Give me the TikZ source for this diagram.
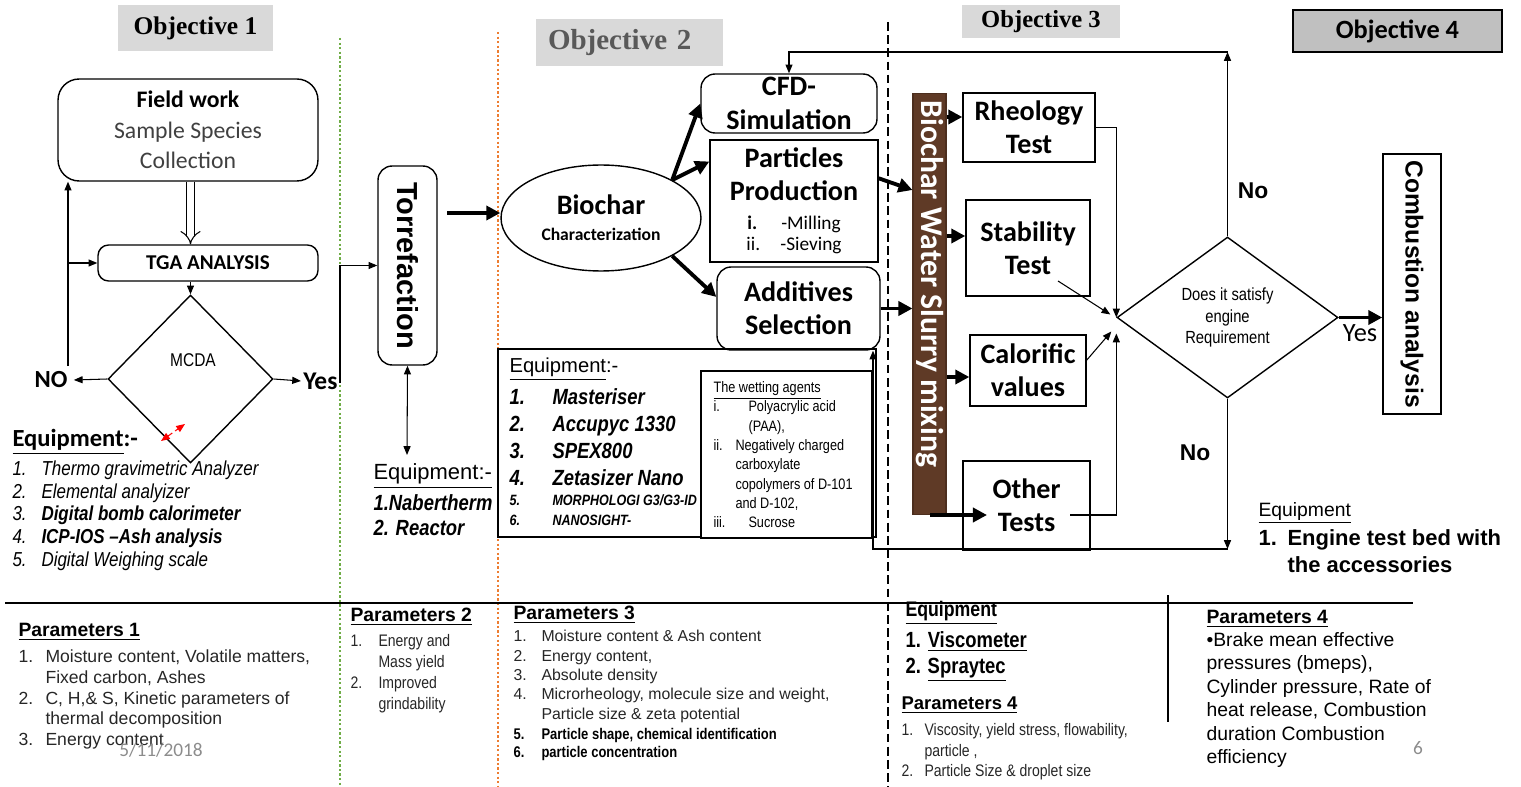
\documentclass[tikz,border=0pt]{standalone}
\usepackage{fontspec}
\setmainfont{Liberation Sans}
\newfontfamily\calibri{Carlito}
\newfontfamily\timesfont{Liberation Serif}
\newfontfamily\narrowfont[FakeStretch=0.84]{Liberation Sans}
\usetikzlibrary{arrows.meta,shapes.geometric,calc}

\definecolor{objgray}{HTML}{D9D9D9}
\definecolor{objfour}{HTML}{C0C0C0}
\definecolor{slurrybrown}{HTML}{5F3A26}
\definecolor{sepgreen}{HTML}{70AD47}
\definecolor{seporange}{HTML}{ED7D31}
\definecolor{textgray}{HTML}{404040}

\tikzset{
  objbox/.style={fill=objgray, inner sep=0pt},
  flowbox/.style={draw, line width=0.8pt, inner sep=0pt, align=center},
  roundbox/.style={flowbox, rounded corners=8pt},
  boxlabel/.style={font=\calibri\bfseries\fontsize{16}{19}\selectfont},
  bigarrow/.style={line width=2.2pt, -{Triangle[length=8pt,width=8pt]}},
  list/.style={anchor=north west, inner sep=0pt, align=left},
  heading/.style={anchor=west, inner sep=0pt},
}

\begin{document}
\begin{tikzpicture}[x=0.02cm, y=-0.02cm, line width=0.6pt, >={Triangle[length=5pt,width=4pt]}]
\useasboundingbox (0,0) rectangle (1521,787);

% objectives
\node[objbox, minimum width=3.1cm, minimum height=0.92cm, font=\timesfont\bfseries\fontsize{14.5}{17}\selectfont] (obja) at (195.5,28) {Objective 1};
\node[objbox, minimum height=0.94cm, inner xsep=0.24cm, text width=3.26cm, align=left, text=black!65, font=\timesfont\bfseries\fontsize{16.5}{19}\selectfont] (objb) at (629.5,42.5) {Objective 2};
\node[objbox, minimum width=3.16cm, minimum height=0.66cm, font=\timesfont\bfseries\fontsize{14}{17}\selectfont] (objc) at (1041,21.5) {Objective 3};
\node[objbox, draw, fill=objfour, line width=0.8pt, minimum width=4.18cm, minimum height=0.84cm, font=\calibri\bfseries\fontsize{15}{18}\selectfont] (objd) at (1397.5,31) {Objective 4};

% separators
\draw[sepgreen, line width=1.5pt, dash pattern=on 1.3pt off 1.3pt] (340,38) -- (340,787);
\draw[seporange, line width=1.5pt, dash pattern=on 1.3pt off 1.3pt] (498,32) -- (498,787);
\draw[line width=1.3pt, dash pattern=on 5pt off 2.5pt] (888,22) -- (888,787);
\draw[line width=0.7pt] (5,603) -- (1413,603);
\draw[line width=0.7pt] (1168,595) -- (1168,722);

% objective 1
\node[roundbox, rounded corners=12pt, minimum width=5.2cm, minimum height=2.04cm, font=\calibri\fontsize{13.5}{17.5}\selectfont] (field) at (188,130) {\textbf{Field work}\\{\color{textgray}Sample Species}\\{\color{textgray}Collection}};
\node[roundbox, rounded corners=6pt, minimum width=4.4cm, minimum height=0.72cm, font=\calibri\bfseries\fontsize{12}{15}\selectfont] (tga) at (208,263) {TGA ANALYSIS};
\node[diamond, draw, line width=0.8pt, minimum width=3.3cm, minimum height=3.36cm, inner sep=0pt] (mcda) at (190.5,379) {};
\node[font=\narrowfont\fontsize{10.5}{12}\selectfont] (mcdatxt) at (193,360) {MCDA};
\node[font=\calibri\bfseries\fontsize{14}{16}\selectfont] (no) at (51,380) {NO};
\node[heading, inner sep=1pt, font=\calibri\bfseries\fontsize{14.5}{16}\selectfont] (yes) at (301,381) {Yes};

\draw[->] (mcda.west) -- (no.east);
\draw[->] (mcda.east) -- (yes.west);
\draw[double, double distance=3.5pt, -{Implies}] (mcda.north |- field.south) -- (mcda.north |- tga.north);
\draw[->] (tga.south -| mcda.north) -- (mcda.north);
\coordinate (noturn) at (68,366);
\draw[->] (noturn) -- (noturn |- field.south);
\draw[->] (noturn |- tga.west) -- (tga.west);
\draw[red, densely dashed, <->] (161,441) -- (185,424);

\node[heading, font=\calibri\bfseries\fontsize{14}{17}\selectfont] (eqhead1) at (12,442) {\underline{Equipment}:-};
\node[list, font=\narrowfont\itshape\fontsize{11.5}{13}\selectfont] (eqlist1) at (12,460) {\makebox[0.58cm][l]{1.}Thermo gravimetric Analyzer\\
\makebox[0.58cm][l]{2.}Elemental analyizer\\
\makebox[0.58cm][l]{3.}\textbf{Digital bomb calorimeter}\\
\makebox[0.58cm][l]{4.}\textbf{ICP-IOS –Ash analysis}\\
\makebox[0.58cm][l]{5.}Digital Weighing scale};

% torrefaction
\node[roundbox, minimum width=1.18cm, minimum height=3.98cm] (torref) at (407.5,265.5) {};
\node[rotate=-90, font=\bfseries\fontsize{16.5}{19}\selectfont] (torreftxt) at (torref) {Torrefaction};
\coordinate (yesturn) at (340,383);
\draw[->] (yesturn) |- (torref.west);
\coordinate (torrefeq) at (407,455);
\draw[<->] (torref.south) -- (torrefeq);
\node[heading, font=\fontsize{12.5}{15}\selectfont] (eqhead2) at (373,476) {\underline{Equipment:-}};
\node[list, font=\narrowfont\bfseries\itshape\fontsize{12.5}{14.2}\selectfont] (eqlist2) at (373,494) {1.Nabertherm\\2. Reactor};

% objective 2
\node[draw, ellipse, line width=0.8pt, minimum width=4cm, minimum height=2.12cm, inner sep=0pt, align=center, font=\calibri\bfseries] (biochar) at (601,218) {{\fontsize{16}{19}\selectfont Biochar}\\[3pt]{\fontsize{10}{12}\selectfont Characterization}};
\coordinate (torrefout) at (447,213);
\draw[bigarrow] (torrefout) -- (torrefout -| biochar.west);

\node[roundbox, minimum width=3.52cm, minimum height=1.18cm, boxlabel] (cfd) at (789,103.5) {CFD-\\Simulation};
\node[flowbox, minimum width=3.36cm, minimum height=2.44cm, boxlabel] (particles) at (794,201) {Particles\\Production\\[-2.5pt]{\mdseries\fontsize{11}{12}\selectfont\makebox[0.68cm][l]{\textbf{i.}}-Milling}\\[-7pt]{\mdseries\fontsize{11}{12}\selectfont\makebox[0.68cm][l]{ii.}-Sieving}};
\node[roundbox, minimum width=3.26cm, minimum height=1.66cm, boxlabel] (additives) at (798.5,308.5) {Additives\\Selection};

\draw[bigarrow] (biochar.north east) -- (cfd.west);
\draw[bigarrow] (biochar.north east) -- (particles.155);
\draw[bigarrow] (biochar.south east) -- (additives.172);

\node[flowbox, minimum width=7.56cm, minimum height=3.76cm] (eqbox) at (687,443) {};
\node[heading, font=\fontsize{11.5}{14}\selectfont] (eqhead3) at (509,369) {\underline{Equipment}:-};
\node[list, font=\narrowfont\bfseries\itshape\fontsize{12.5}{15.3}\selectfont] (eqlist3) at (509,388) {\makebox[0.86cm][l]{1.}Masteriser\\
\makebox[0.86cm][l]{2.}Accupyc 1330\\
\makebox[0.86cm][l]{3.}SPEX800\\
\makebox[0.86cm][l]{4.}Zetasizer Nano};
\node[list, font=\narrowfont\bfseries\itshape\fontsize{8.5}{11.3}\selectfont] (eqlist3b) at (509,494) {\makebox[0.86cm][l]{5.}MORPHOLOGI G3/G3-ID\\
\makebox[0.86cm][l]{6.}NANOSIGHT-};
\node[flowbox, fill=white, minimum width=3.42cm, minimum height=3.34cm] (wetting) at (786.5,454.5) {};
\node[list, font=\narrowfont\fontsize{8.6}{11}\selectfont] (wetlist) at (713,381) {\underline{The wetting agents}\\
\makebox[0.7cm][l]{i.}Polyacrylic acid\\
\hspace*{0.7cm}(PAA),\\
\makebox[0.44cm][l]{ii.}Negatively charged\\
\hspace*{0.44cm}carboxylate\\
\hspace*{0.44cm}copolymers of D-101\\
\hspace*{0.44cm}and D-102,\\
\makebox[0.7cm][l]{iii.}Sucrose};

% objective 3
\node[draw=slurrybrown!80!black, fill=slurrybrown, minimum width=0.66cm, minimum height=8.44cm, inner sep=0pt] (slurry) at (929.5,304) {};
\node[rotate=-90, anchor=west, inner sep=0pt, text=white, font=\calibri\bfseries\fontsize{18}{21}\selectfont] (slurrytxt) at (929.5,100) {Biochar Water Slurry mixing};

\node[flowbox, minimum width=2.64cm, minimum height=1.38cm, boxlabel] (rheology) at (1029,127.5) {Rheology\\Test};
\node[flowbox, minimum width=2.48cm, minimum height=1.92cm, boxlabel] (stability) at (1028,248) {Stability\\Test};
\node[flowbox, minimum width=2.32cm, minimum height=1.42cm, boxlabel] (calorific) at (1028,370.5) {Calorific\\values};
\node[flowbox, minimum width=2.54cm, minimum height=1.78cm, boxlabel] (other) at (1026.5,505.5) {Other\\Tests};

\draw[bigarrow] (particles.15) -- (slurry.west |- 0,190);
\draw[bigarrow] (additives.east) -- (slurry.west |- additives.east);
\draw[bigarrow] (slurry.east |- 0,117) -- (rheology.west |- 0,117);
\draw[bigarrow] (slurry.east |- 0,236) -- (stability.west |- 0,236);
\draw[bigarrow] (slurry.east |- 0,377) -- (calorific.west |- 0,377);
\coordinate (slurryfoot) at (930,515);
\coordinate (otherin) at (987,515);
\draw[bigarrow] (slurryfoot) -- (otherin);

\node[diamond, draw, line width=0.8pt, minimum width=4.42cm, minimum height=3.22cm, inner sep=0pt, align=center, font=\narrowfont\fontsize{10}{12}\selectfont] (decision) at (1227.5,317.5) {Does it satisfy\\engine\\Requirement};

\draw[->] (rheology.east) -| (decision.west);
\coordinate (stabout) at (1058,281);
\draw[->] (stabout) -- ($(decision.west)+(-6,-3)$);
\draw[->] (calorific.10) -- ($(decision.west)+(-5,14)$);
\coordinate (otherout) at (1070,515);
\draw[->] (otherout) -| ($(decision.west)+(0,16)$);

\node[flowbox, minimum width=1.16cm, minimum height=5.2cm] (combustion) at (1412,284) {};
\node[rotate=-90, font=\bfseries\fontsize{14}{17}\selectfont] (combtxt) at (combustion) {Combustion analysis};

\node[font=\bfseries\fontsize{13}{15}\selectfont] (notop) at (1253,191) {No};
\node[font=\bfseries\fontsize{13}{15}\selectfont] (nobottom) at (1195,453) {No};
\node[font=\calibri\fontsize{15}{18}\selectfont] (yesright) at (1360,333) {Yes};

\draw[->] (decision.north) -- (decision.north |- 0,52);
\draw[->] (decision.north |- 0,52) -| (cfd.north);
\draw[->] (decision.south) -- (decision.south |- 0,549);
\draw[->] (decision.south |- 0,549) -| (873,0 |- additives.south);
\draw[bigarrow] (decision.east) -- (decision.east -| combustion.west);

\node[heading, font=\fontsize{11}{13}\selectfont] (eqhead4) at (1258,513) {\underline{Equipment}};
\node[list, font=\bfseries\fontsize{12.5}{15.3}\selectfont] (eqlist4) at (1258,529) {\makebox[0.58cm][l]{1.}Engine test bed with\\
\hspace*{0.58cm}the accessories};

% parameters
\node[heading, font=\bfseries\fontsize{11}{13}\selectfont] (par1) at (18,632) {\underline{Parameters 1}};
\node[list, font=\fontsize{10}{11.9}\selectfont, text=black!85] (parlist1) at (18,649) {\makebox[0.54cm][l]{1.}Moisture content, Volatile matters,\\
\hspace*{0.54cm}Fixed carbon, Ashes\\
\makebox[0.54cm][l]{2.}C, H,\& S, Kinetic parameters of\\
\hspace*{0.54cm}thermal decomposition\\
\makebox[0.54cm][l]{3.}Energy content};
\node[font=\calibri\fontsize{11}{13}\selectfont, text=black!45] (date) at (161,750) {5/11/2018};

\node[heading, font=\bfseries\fontsize{11}{13}\selectfont] (par2) at (350,617) {\underline{Parameters 2}};
\node[list, font=\narrowfont\fontsize{9.5}{11.9}\selectfont, text=black!85] (parlist2) at (350,634) {\makebox[0.56cm][l]{1.}Energy and\\
\hspace*{0.56cm}Mass yield\\
\makebox[0.56cm][l]{2.}Improved\\
\hspace*{0.56cm}grindability};

\node[heading, font=\bfseries\fontsize{11}{13}\selectfont] (par3) at (513,615) {\underline{Parameters 3}};
\node[list, font=\fontsize{9}{11}\selectfont, text=black!85] (parlist3) at (513,630) {\makebox[0.56cm][l]{1.}Moisture content \& Ash content\\
\makebox[0.56cm][l]{2.}Energy content,\\
\makebox[0.56cm][l]{3.}Absolute density\\
\makebox[0.56cm][l]{4.}Microrheology, molecule size and weight,\\
\hspace*{0.56cm}Particle size \& zeta potential};
\node[list, font=\narrowfont\bfseries\fontsize{8.8}{10.3}\selectfont] (parlist3b) at (513,728) {\makebox[0.56cm][l]{5.}Particle shape, chemical identification\\
\makebox[0.56cm][l]{6.}particle concentration};

\node[heading, font=\narrowfont\bfseries\fontsize{12}{14}\selectfont] (eqhead5) at (905,613) {\underline{Equipment}};
\node[list, font=\narrowfont\bfseries\fontsize{12.5}{14.7}\selectfont] (eqlist5) at (905,631) {1. \underline{Viscometer}\\
2. \underline{Spraytec}};
\node[heading, font=\bfseries\fontsize{10.5}{13}\selectfont] (par4a) at (901,705) {\underline{Parameters 4}};
\node[list, font=\narrowfont\fontsize{9.5}{11.6}\selectfont, text=black!85] (parlist4a) at (901,723) {\makebox[0.46cm][l]{1.}Viscosity, yield stress, flowability,\\
\hspace*{0.46cm}particle ,\\
\makebox[0.46cm][l]{2.}Particle Size \& droplet size};

\node[heading, font=\bfseries\fontsize{11}{13}\selectfont] (par4b) at (1206,619) {\underline{Parameters 4}};
\node[list, font=\fontsize{11}{13.3}\selectfont] (parlist4b) at (1206,632) {•Brake mean effective\\
pressures (bmeps),\\
Cylinder pressure, Rate of\\
heat release, Combustion\\
duration Combustion\\
efficiency};
\node[font=\calibri\fontsize{11}{13}\selectfont, text=black!45] (pagenum) at (1418,748) {6};
\end{tikzpicture}
\end{document}
